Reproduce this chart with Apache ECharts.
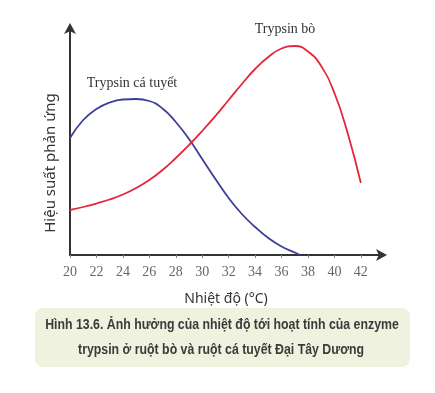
<!DOCTYPE html>
<html>
<head>
<meta charset="utf-8">
<script src="https://cdn.jsdelivr.net/npm/echarts@6/dist/echarts.min.js"></script>
<style>
html,body{margin:0;padding:0;background:#fff;}
#chart{width:435px;height:393px;}
</style>
</head>
<body>
<div id="chart"></div>
<script>
// Temperature (°C) and relative reaction efficiency
const codTemps  = [20, 21, 22, 23, 24, 25, 26, 27, 28, 29, 30, 31, 32, 33, 34, 35, 36, 37, 37.4];
const codValues = [117, 135, 146, 152.5, 155.5, 156, 154, 146.5, 133, 116, 96, 76, 57, 41, 28, 17, 8.5, 2.5, 0];

const cowTemps  = [20, 21, 22, 23, 24, 25, 26, 27, 28, 29, 30, 31, 32, 33, 34, 35, 36, 37, 38, 39, 40, 41, 42];
const cowValues = [45, 48, 51.5, 55.5, 60.5, 67, 75, 85, 97, 110, 124, 139, 155, 171, 186, 198, 206.5, 209, 203.5, 189, 162, 122, 72];

const xTickLabels = [20, 22, 24, 26, 28, 30, 32, 34, 36, 38, 40, 42];

const codName = 'Trypsin cá tuyết';
const cowName = 'Trypsin bò';
const xTitle = 'Nhiệt độ (°C)';
const yTitle = 'Hiệu suất phản ứng';
const caption1 = 'Hình 13.6. Ảnh hưởng của nhiệt độ tới hoạt tính của enzyme';
const caption2 = 'trypsin ở ruột bò và ruột cá tuyết Đại Tây Dương';

const pair = (xs, ys) => xs.map((x, i) => [x, ys[i]]);

const chart = echarts.init(document.getElementById('chart'), null, {renderer: 'canvas'});
chart.setOption({
  animation: false,
  backgroundColor: '#ffffff',
  grid: {left: 70, right: 53, top: 28, bottom: 138},
  xAxis: {
    type: 'value', min: 20, max: 43.6, interval: 2,
    splitLine: {show: false},
    axisLine: {show: true, lineStyle: {color: '#333', width: 2}, symbol: ['none', 'arrow'], symbolSize: [9, 11], symbolOffset: [0, 5]},
    axisTick: {show: true, length: 3, lineStyle: {color: '#888'}, customValues: xTickLabels},
    axisLabel: {
      customValues: xTickLabels,
      margin: 10, color: '#666', fontFamily: 'Liberation Serif', fontSize: 14
    },
    name: xTitle, nameLocation: 'middle', nameGap: 37,
    nameTextStyle: {color: '#333', fontFamily: 'Noto Sans', fontSize: 14}
  },
  yAxis: {
    type: 'value', min: 0, max: 227,
    splitLine: {show: false},
    axisLine: {show: true, lineStyle: {color: '#333', width: 2}, symbol: ['none', 'arrow'], symbolSize: [9, 11], symbolOffset: [0, 5]},
    axisTick: {show: false},
    axisLabel: {show: false}
  },
  graphic: [
    {type: 'text', x: 51, y: 163, rotation: Math.PI / 2, style: {text: yTitle, font: '15px "Noto Sans"', fill: '#333', align: 'center', verticalAlign: 'middle'}},
    {type: 'text', x: 132, y: 83, style: {text: codName, font: '14px "Liberation Serif"', fill: '#333', align: 'center', verticalAlign: 'middle'}},
    {type: 'text', x: 285, y: 29, style: {text: cowName, font: '14px "Liberation Serif"', fill: '#333', align: 'center', verticalAlign: 'middle'}},
    {type: 'rect', shape: {x: 35, y: 308, width: 375, height: 59, r: 8}, style: {fill: '#eef2df'}},
    {type: 'text', x: 222, y: 325, scaleX: 0.88, style: {text: caption1, font: 'bold 14px "Liberation Sans"', fill: '#3b3b3b', align: 'center', verticalAlign: 'middle'}},
    {type: 'text', x: 221, y: 350, scaleX: 0.88, style: {text: caption2, font: 'bold 14px "Liberation Sans"', fill: '#3b3b3b', align: 'center', verticalAlign: 'middle'}}
  ],
  series: [
    {type: 'line', name: codName, data: pair(codTemps, codValues), smooth: true, showSymbol: false,
     lineStyle: {color: '#3d3f98', width: 1.8}},
    {type: 'line', name: cowName, data: pair(cowTemps, cowValues), smooth: true, showSymbol: false,
     lineStyle: {color: '#e3263a', width: 1.8}}
  ]
});
</script>
</body>
</html>
